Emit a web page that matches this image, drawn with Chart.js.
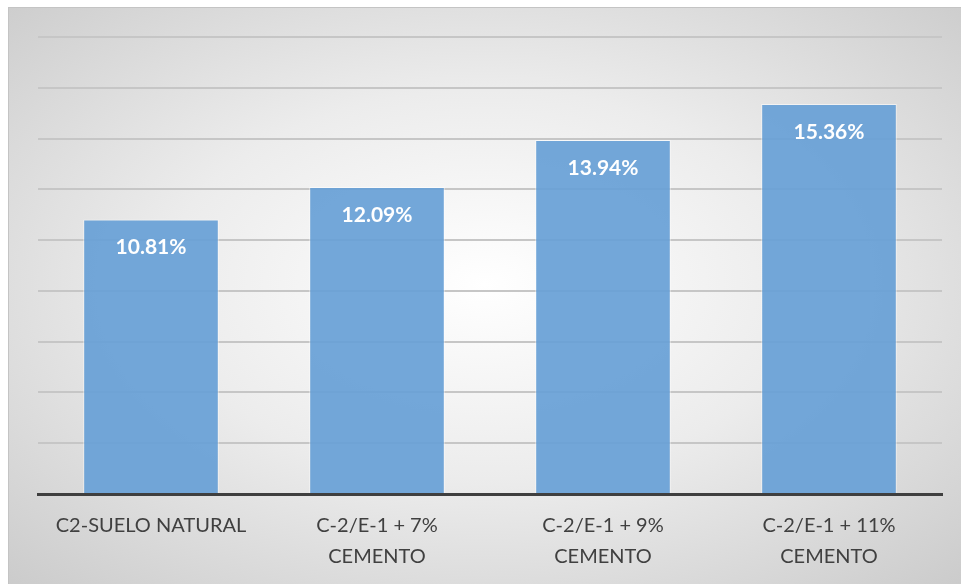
<!DOCTYPE html>
<html>
<head>
<meta charset="utf-8">
<script src="https://cdn.jsdelivr.net/npm/chart.js@4/dist/chart.umd.min.js"></script>
<style>
  html, body { margin: 0; padding: 0; background: #ffffff; }
  #frame {
    position: absolute; left: 8px; top: 7px; width: 953px; height: 577px;
    box-sizing: border-box; border-top: 1px solid #c4c4c4; border-left: 1px solid #c4c4c4;
    background: radial-gradient(ellipse 75% 75% at 50% 48%, #ffffff 0%, #ececec 45%, #c9c9c9 100%);
  }
  #chart { display: block; }
</style>
</head>
<body>
<div id="frame"><canvas id="chart" width="952" height="576"></canvas></div>
<script>
// categories and values (percent)
const categories = [
    'C2-SUELO NATURAL',
    ['C-2/E-1 + 7%', 'CEMENTO'],
    ['C-2/E-1 + 9%', 'CEMENTO'],
    ['C-2/E-1 + 11%', 'CEMENTO']
];
const values = [10.81, 12.09, 13.94, 15.36];
const yTicks = [0, 2, 4, 6, 8, 10, 12, 14, 16, 18];

const fontFamily = 'Lato, "Open Sans", sans-serif';

// draws the percent labels inside the top of every bar
const barLabels = {
    id: 'barLabels',
    afterDatasetsDraw(chart) {
        const ctx = chart.ctx;
        const meta = chart.getDatasetMeta(0);
        ctx.save();
        ctx.font = 'bold 21px ' + fontFamily;
        ctx.fillStyle = '#ffffff';
        ctx.textAlign = 'center';
        ctx.textBaseline = 'middle';
        meta.data.forEach((bar, i) => {
            ctx.fillText(values[i].toFixed(2) + '%', bar.x, bar.y + 28);
        });
        ctx.restore();
    }
};

new Chart(document.getElementById('chart'), {
    type: 'bar',
    data: {
        labels: categories,
        datasets: [{
            data: values,
            backgroundColor: 'rgba(104, 160, 214, 0.93)',
            borderColor: 'rgba(255, 255, 255, 0.55)',
            borderWidth: 1,
            categoryPercentage: 0.6,
            barPercentage: 1
        }]
    },
    options: {
        responsive: false,
        animation: false,
        layout: { padding: { left: 29, right: 19, top: 29, bottom: 0 } },
        plugins: { legend: { display: false }, tooltip: { enabled: false } },
        scales: {
            x: {
                grid: { display: false },
                border: { display: true, color: '#3f3f3f', width: 3 },
                ticks: { color: '#404040', font: { family: fontFamily, size: 20, lineHeight: 1.55 }, padding: 8, maxRotation: 0 },
                afterFit(scale) { scale.height = 90; }
            },
            y: {
                min: 0,
                max: 18,
                afterBuildTicks(scale) { scale.ticks = yTicks.map(v => ({ value: v })); },
                ticks: { display: false },
                border: { display: false },
                grid: {
                    color: ctx => ctx.tick && ctx.tick.value === 0 ? 'rgba(0,0,0,0)' : '#c6c6c6',
                    lineWidth: 2,
                    drawTicks: false
                },
                afterFit(scale) { scale.width = 0; }
            }
        }
    },
    plugins: [barLabels]
});
</script>
</body>
</html>
